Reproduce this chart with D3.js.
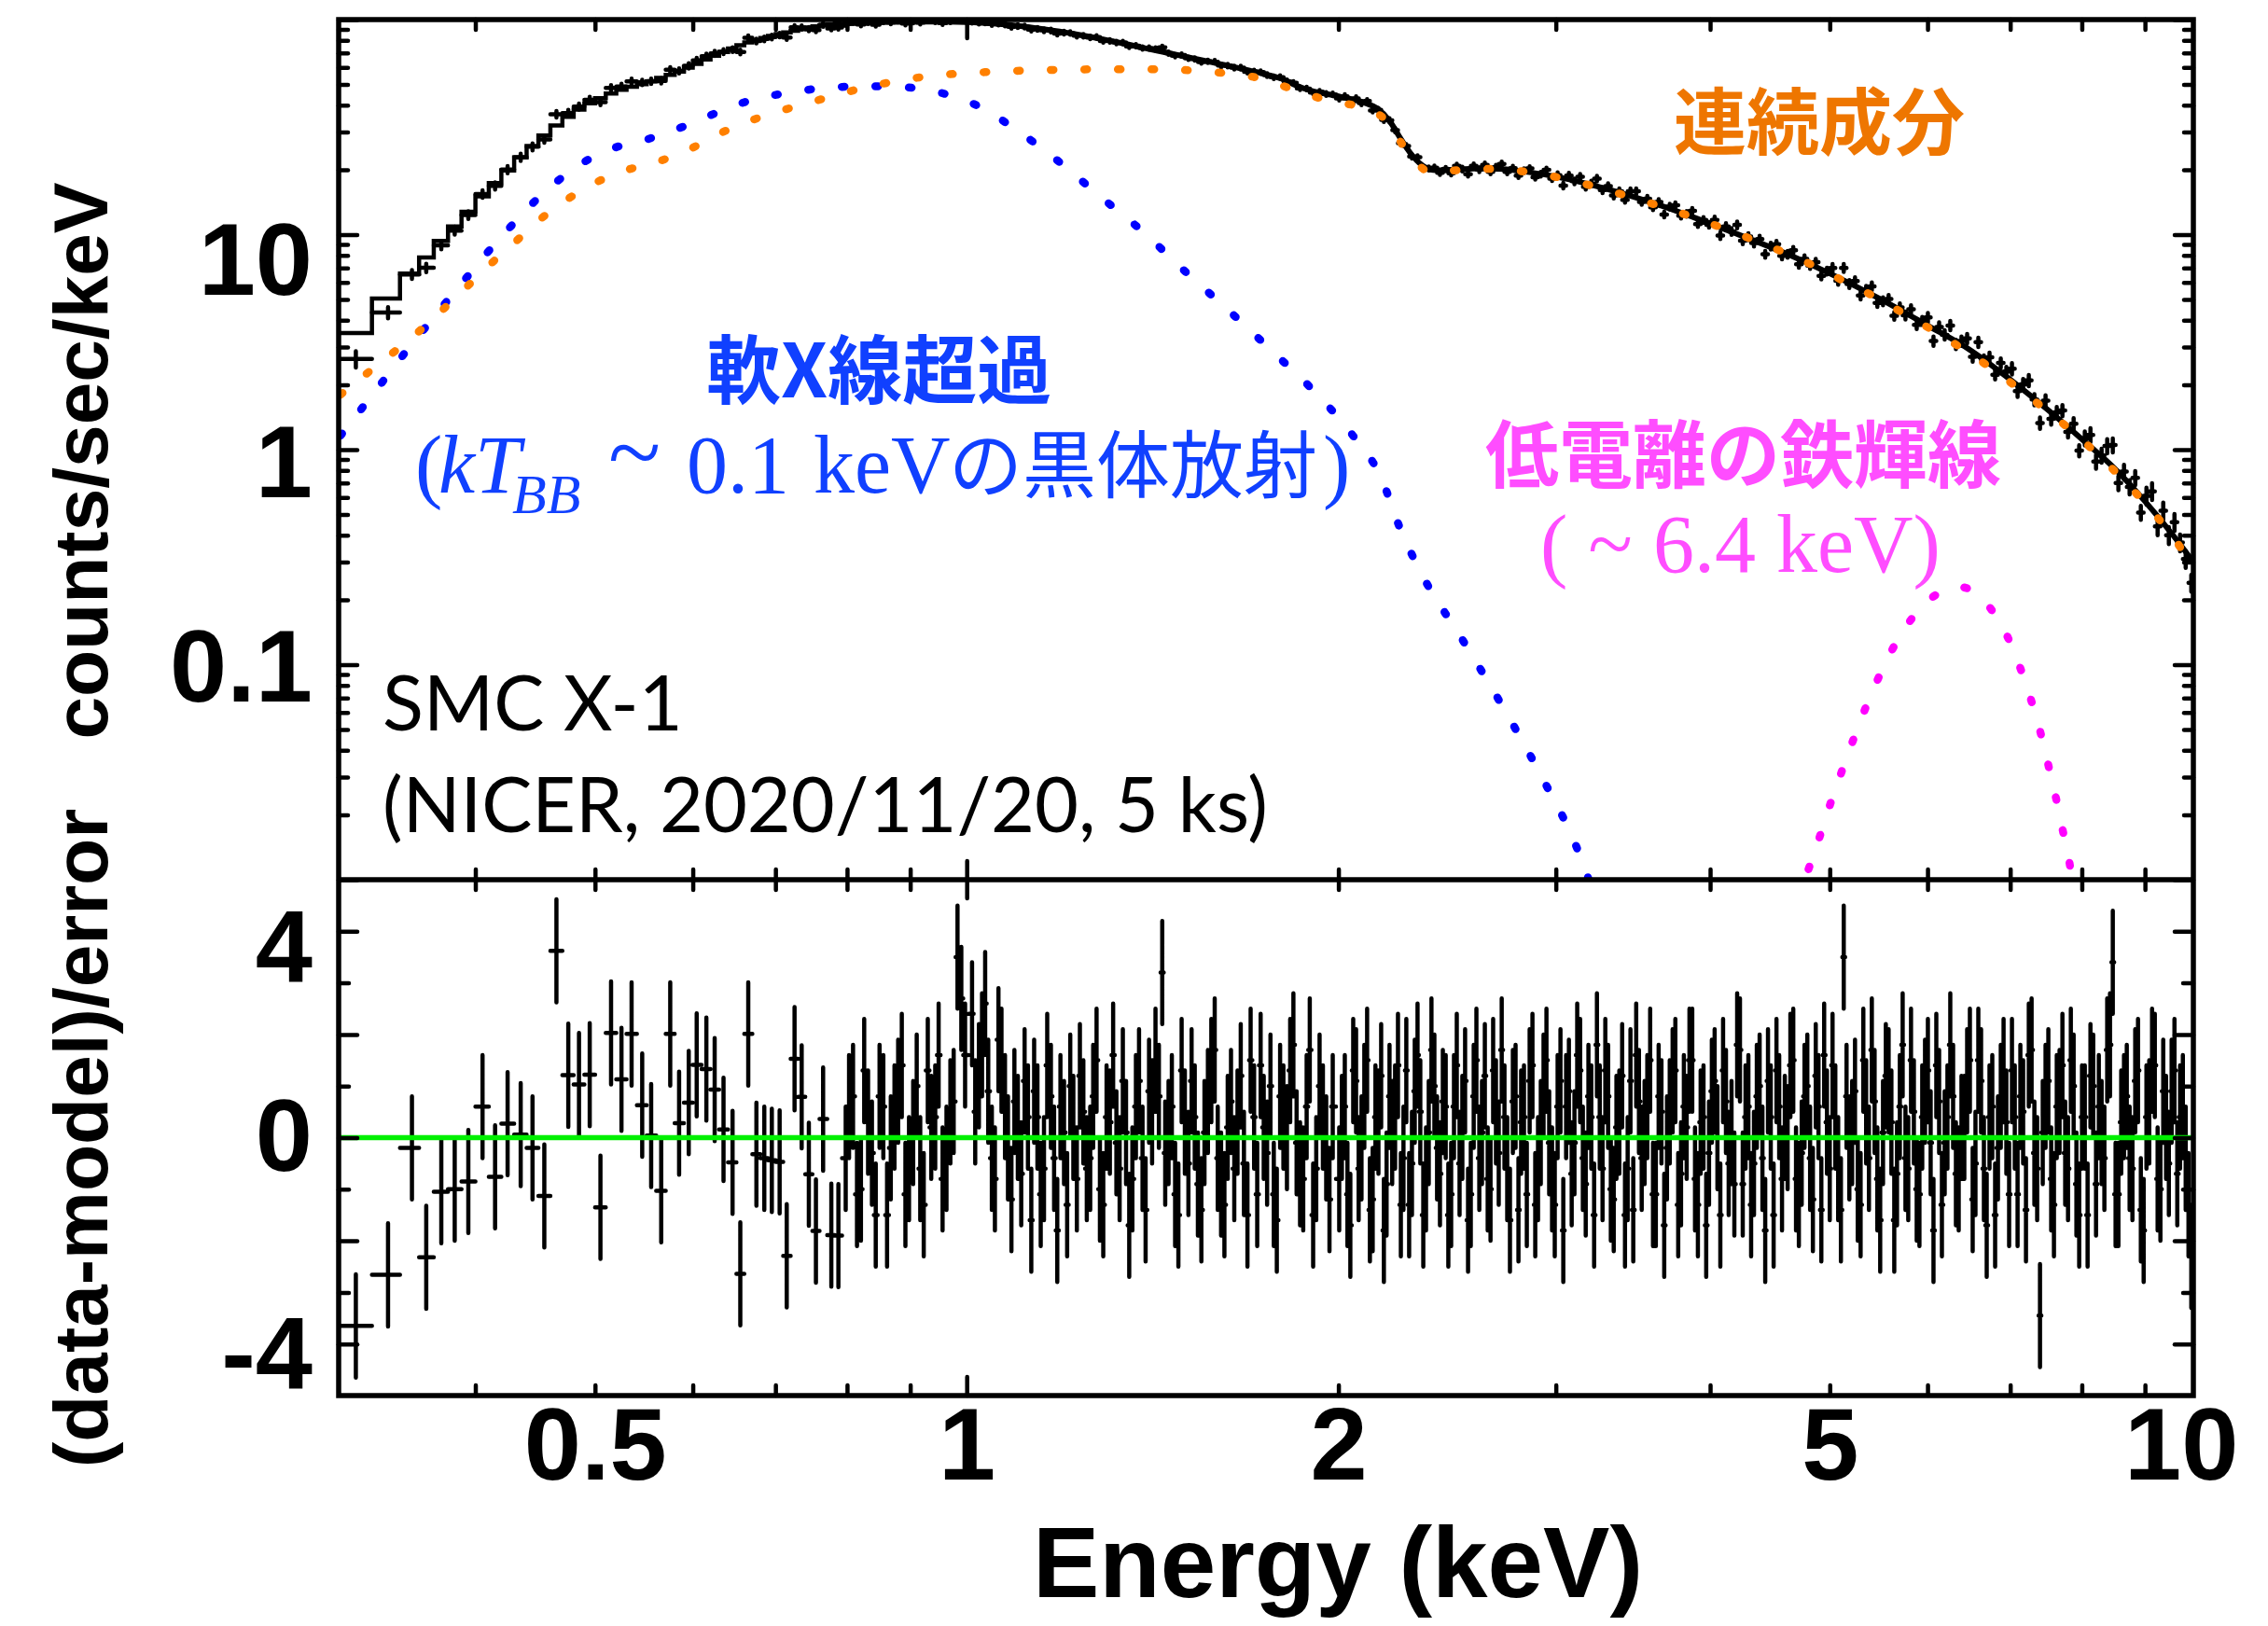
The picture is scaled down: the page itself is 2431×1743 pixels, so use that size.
<!DOCTYPE html>
<html><head><meta charset="utf-8">
<script src="https://cdn.jsdelivr.net/npm/d3@7"></script>
<style>html,body{margin:0;padding:0;background:#fff;overflow:hidden}svg{display:block}</style>
</head><body>
<svg id="c" width="2431" height="1743"></svg>
<script>
// ---------------- DATA ----------------
// spectrum bin centre energies (keV)
const binE = [0.3201,0.3399,0.3554,0.3650,0.3754,0.3849,0.3948,0.4054,0.4150,0.4248,
0.4353,0.4450,0.4549,0.4653,0.4757,0.4853,0.4951,0.5051,0.5152,0.5253,
0.5353,0.5460,0.5552,0.5657,0.5753,0.5849,0.5955,0.6044,0.6154,0.6250,
0.6354,0.6462,0.6556,0.6654,0.6756,0.6856,0.6953,0.7055,0.7149,0.7254,
0.7351,0.7450,0.7549,0.7651,0.7769,0.7872,
0.798,0.809,0.821,0.832,0.844,0.856,0.868,0.880,0.892,0.905,0.917,0.930,0.943,0.956,0.970,0.983,0.997,
1.010,1.023,1.035,1.048,1.061,1.074,1.087,1.100,1.114,1.128,1.141,1.155,1.170,1.184,1.199,1.213,1.228,1.243,1.259,1.274,
1.290,1.306,1.322,1.338,1.354,1.371,1.388,1.405,1.422,1.440,1.457,1.475,1.493,1.512,1.530,1.549,1.568,1.588,1.607,1.627,
1.647,1.667,1.688,1.709,1.730,1.751,1.773,1.794,1.817,1.839,1.862,1.885,1.908,1.931,1.955,1.979,
2.003,2.024,2.045,2.067,2.088,2.110,2.132,2.155,2.177,2.200,2.223,2.247,2.270,2.294,2.318,2.343,2.367,2.392,2.417,2.443,
2.468,2.494,2.520,2.547,2.574,2.601,2.628,2.656,2.683,2.712,2.740,2.769,2.798,2.827,2.857,2.887,2.917,2.948,2.979,3.010,
3.042,3.074,3.106,3.139,3.172,3.205,3.239,3.273,3.307,3.342,3.377,3.413,3.448,3.485,3.521,3.558,3.596,3.634,3.672,3.710,
3.749,3.789,3.829,3.869,3.910,3.951,3.992,4.034,4.077,4.120,4.163,4.207,4.251,4.296,4.341,4.387,4.433,4.479,4.527,4.574,
4.622,4.671,4.720,4.770,4.820,4.871,4.922,4.974,5.026,5.079,5.132,5.186,5.241,5.296,5.351,5.408,5.464,5.522,5.580,5.639,
5.698,5.758,5.818,5.880,5.941,6.004,6.067,6.131,6.195,6.260,6.326,6.392,6.460,6.527,6.596,6.665,6.735,6.806,6.878,6.950,
7.023,7.097,7.171,7.247,7.323,7.400,7.477,7.556,7.635,7.716,7.797,7.879,7.961,8.045,8.130,8.215,8.301,8.388,8.476,8.565,
8.655,8.746,8.838,8.931,9.025,9.120,9.215,9.312,9.410,9.509,9.609,9.710,9.812];

// residuals (data-model)/error in the same bins
const resid = [-3.65,-2.66,-0.2,-2.32,-1.05,-1.0,-0.85,0.6,-0.76,0.27,
0.06,-0.2,-1.13,3.62,1.21,1.03,1.22,-1.35,2.03,1.13,
2.01,0.63,0.04,-1.03,2.01,0.28,0.68,1.41,1.33,0.93,
0.16,-0.48,-2.64,2.01,-0.32,-0.4,-0.44,-0.47,-2.29,1.53,
0.79,-0.71,-1.81,0.36,-1.89,-1.9,
-0.4,0.8,-1.0,0.3,-1.5,0.6,-0.2,0.9,-1.1,0.1,-0.6,1.3,0.4,-0.8,0.5,3.5,1.6,
2.4,1.2,2.6,-0.4,1.9,0.6,-1.2,0.2,1.1,-1.6,0.4,-0.6,0.8,-1.8,0.1,1.0,-0.8,0.5,-0.4,1.5,
-1.3,0.3,-0.1,1.1,-1.7,0.6,-0.4,0.9,1.5,3.2,0.1,-1.1,1.3,-0.5,0.4,-1.4,0.7,1.7,-0.9,0.2,
-0.6,1.2,-1.5,0.4,1.4,-0.3,-1.1,0.8,0.0,1.8,-0.7,0.6,-1.5,1.0,-0.2,0.6,
-0.8,0.6,-1.7,1.1,-0.2,1.5,-1.2,0.3,-1.8,0.8,0.4,-1.3,1.3,-0.5,1.6,-1.5,0.1,1.0,-0.7,0.6,
-1.1,1.4,0.2,-1.6,0.8,-0.4,1.2,-1.0,0.5,1.7,-0.6,0.7,-1.4,0.4,1.1,-1.3,0.1,1.5,-0.8,0.6,
-1.8,0.9,-0.1,1.3,-0.9,0.4,1.8,-0.6,0.8,-1.2,0.3,-1.5,1.1,1.6,-0.4,0.6,-1.1,0.8,-1.7,0.5,
1.3,-0.7,0.2,1.5,-1.3,0.4,-0.3,1.1,-1.5,0.7,0.1,1.8,-0.9,0.6,-0.5,1.0,-1.8,0.4,1.3,-0.8,
0.0,1.5,-1.1,0.8,-0.4,1.2,-1.4,0.3,1.4,-0.6,3.5,-0.2,0.9,-1.3,0.5,1.7,-0.8,0.1,1.1,-1.6,
0.6,-0.4,1.5,-1.0,0.4,1.3,-1.8,0.7,-0.1,1.8,-0.7,0.2,1.1,-1.2,1.5,-0.6,0.4,-1.5,0.8,0.3,
1.3,-1.1,0.5,1.6,-0.3,-3.45,0.8,-0.8,0.6,1.4,-0.6,1.0,-1.5,0.4,1.2,-0.9,0.1,1.7,3.4,-1.1,
0.6,-0.4,1.1,-1.4,0.4,1.5,-0.8,0.9,-0.5,1.3,0.4,-0.4,-2.3];

// extra residual-only bins lying between the spectrum bins above 0.8 keV
const midE = [0.803,0.815,0.826,0.838,0.850,0.862,0.874,0.886,0.898,0.911,0.923,0.936,0.949,0.963,0.976,0.990,
1.016,1.029,1.041,1.054,1.067,1.080,1.093,1.107,1.121,1.134,1.148,1.162,1.177,1.191,1.206,1.220,1.235,1.251,1.266,1.282,
1.298,1.314,1.330,1.346,1.362,1.379,1.396,1.413,1.431,1.448,1.466,1.484,1.502,1.521,1.539,1.558,1.578,1.597,1.617,1.637,
1.657,1.677,1.698,1.719,1.740,1.762,1.783,1.805,1.828,1.850,1.873,1.896,1.919,1.943,1.967,
2.013,2.034,2.056,2.077,2.099,2.121,2.143,2.166,2.188,2.211,2.235,2.258,2.282,2.306,2.330,2.355,2.379,2.404,2.430,2.455,
2.481,2.507,2.533,2.560,2.587,2.614,2.642,2.669,2.697,2.726,2.754,2.783,2.812,2.842,2.872,2.902,2.932,2.963,2.994,3.026,
3.058,3.090,3.122,3.155,3.188,3.222,3.256,3.290,3.324,3.359,3.395,3.430,3.466,3.503,3.540,3.577,3.615,3.653,3.691,3.730,
3.769,3.809,3.849,3.889,3.930,3.971,4.013,4.055,4.098,4.141,4.185,4.229,4.273,4.318,4.364,4.410,4.456,4.503,4.550,4.598,
4.646,4.695,4.745,4.795,4.845,4.896,4.948,5.000,5.052,5.105,5.159,5.213,5.268,5.323,5.379,5.436,5.493,5.551,5.609,5.668,
5.728,5.788,5.849,5.910,5.972,6.035,6.099,6.163,6.227,6.293,6.359,6.426,6.493,6.561,6.630,6.700,6.770,6.842,6.914,6.986,
7.060,7.134,7.209,7.285,7.361,7.438,7.516,7.595,7.675,7.756,7.838,7.920,8.003,8.087,8.172,8.258,8.344,8.432,8.520,8.610,
8.700,8.792,8.884,8.978,9.072,9.167,9.263,9.361,9.459,9.559,9.659,9.761];
const residMid = [0.6,-1.1,1.3,-0.3,0.8,-1.5,0.4,1.4,-0.6,1.0,-1.3,0.2,1.6,-0.4,0.7,2.7,
0.5,1.8,0.9,-0.8,1.5,-0.2,0.7,-0.7,0.4,0.9,-1.1,1.4,-0.4,0.6,-1.3,0.2,1.2,-0.6,0.8,-1.0,
0.4,1.6,-0.6,0.1,-0.8,1.1,-1.4,0.5,0.8,-0.3,0.6,-1.5,0.3,1.1,-0.9,0.1,1.3,-0.4,-1.3,0.7,
0.3,-0.5,1.5,-1.1,0.2,1.0,-1.6,0.4,1.3,-0.1,-0.8,1.7,-0.6,0.4,-1.2,
0.2,-1.1,1.3,-0.6,0.8,-1.4,0.4,1.2,-0.9,0.1,1.4,-0.4,-1.3,0.9,0.5,-0.8,1.7,-0.2,0.7,-1.5,
0.6,-0.5,1.1,-1.1,1.5,0.1,-0.8,1.3,-0.3,0.4,-1.6,0.8,0.3,-1.1,1.4,-0.6,1.0,-0.1,-1.3,1.1,
0.6,-0.7,1.6,-0.4,0.8,-1.5,0.4,1.3,-1.0,0.2,1.2,-0.6,-1.4,0.7,0.1,1.5,-1.1,0.5,-0.2,1.1,
-1.3,0.6,1.5,-0.8,0.3,-1.7,0.9,0.0,1.3,-0.5,-0.9,1.7,0.4,-1.3,0.8,-0.4,1.1,-1.5,0.6,0.2,
1.4,-0.8,-0.3,1.0,-1.2,0.6,1.6,-0.6,0.4,-1.4,0.8,0.1,-1.0,1.5,-0.4,0.7,-1.6,1.2,0.3,-0.7,
1.8,-0.6,0.5,-1.1,0.9,-0.1,1.4,-1.3,0.4,0.8,-0.8,0.2,1.5,-0.5,1.1,-1.7,0.6,-0.2,1.3,-1.1,
0.4,0.8,-1.4,1.7,-0.6,0.1,1.1,-1.3,0.7,-0.3,1.5,-0.9,0.4,-1.5,1.0,0.6,-0.4,1.8,-1.1,0.3,
0.8,-0.6,1.3,-1.8,0.5,1.4,-1.0,0.2,0.9,-0.7,0.6,-1.3];

// observed spectrum (counts/sec/keV)
const specF = [2.64,4.34,6.53,7.01,8.92,10.44,12.32,15.44,16.86,20.07,
22.89,25.61,27.72,36.28,36.75,39.40,42.39,41.30,48.10,48.80,
51.64,51.03,51.66,51.90,58.47,57.75,60.94,64.61,67.54,69.60,
70.90,72.48,70.69,82.31,79.56,81.28,83.0,84.73,82.41,91.99,
91.94,90.30,89.31,94.76,91.05,91.80,
95.3,97.6,95.0,97.4,94.7,98.4,97.1,99.1,95.8,98.0,96.9,99.9,98.4,96.3,98.4,101.5,99.0,
97.8,96.9,97.0,95.3,95.8,94.9,92.6,93.2,92.8,89.9,90.6,89.1,89.0,86.1,86.9,86.6,84.1,84.1,82.6,83.0,
79.5,79.6,78.2,78.2,75.0,75.6,73.8,73.8,73.0,74.3,69.8,67.9,68.4,66.1,65.6,63.5,64.0,63.7,61.1,61.1,
59.8,59.8,57.2,57.3,57.0,55.2,53.9,54.0,51.6,50.8,47.9,47.8,45.8,46.2,45.1,44.9,
43.0,44.0,40.7,43.0,40.9,41.8,37.8,38.0,34.2,34.0,30.6,26.6,25.8,23.1,22.9,20.3,20.3,20.5,19.4,20.2,
19.3,20.9,20.2,19.1,20.9,20.05,21.1,19.6,20.6,21.3,19.6,20.4,18.8,19.85,20.3,18.5,19.1,20.0,18.2,18.9,
16.9,18.8,17.7,18.6,16.7,17.3,18.2,16.1,16.8,15.2,15.9,14.5,15.9,15.9,14.2,14.7,13.4,14.2,12.4,13.5,
13.7,12.25,12.5,12.9,11.2,11.7,11.1,11.7,9.9,10.9,10.35,11.1,9.37,9.8,9.13,9.53,8.11,8.84,9.02,7.96,
8.1,8.46,7.28,7.72,7.18,7.45,6.43,6.77,7.0,6.10,7.0,5.89,6.08,5.21,5.54,5.75,4.81,4.90,5.02,4.19,
4.59,4.21,4.50,3.80,3.97,4.12,3.20,3.72,3.42,3.78,3.09,3.20,3.29,2.70,3.16,2.61,2.69,2.23,2.53,2.31,
2.38,1.87,2.01,2.10,1.71,1.33,1.69,1.39,1.49,1.52,1.21,1.32,0.99,1.13,1.17,0.88,0.94,1.04,1.05,0.70,
0.79,0.67,0.74,0.51,0.61,0.64,0.44,0.52,0.40,0.46,0.37,0.31,0.24];

// percentage errors: wide low-energy bins individually, then by energy range
const specErrLow = [8.8,6.0,4.8,4.5,4.3,4.2,4.1,4.0,3.9,3.9,3.8,3.7,3.6,3.5,3.4,3.3,3.2,3.1,3.05,3.0,
3.0,2.95,2.9,2.9,2.85,2.8,2.8,2.75,2.7,2.7,2.65,2.6,2.6,2.55,2.5,2.5,2.45,2.4,2.4,2.35,2.3,2.3,2.25,2.25,2.2,2.2];
const errBands = [[0.79,2.0],[1.2,1.8],[1.6,1.9],[2.0,2.2],[2.5,2.5],[3.0,3.0],[4.0,3.6],[5.0,4.2],[6.0,5.0],[7.0,6.0],[8.0,7.5],[9.0,9.0]];

// total folded model: step histogram in the wide low-energy bins ...
const modelTot = [3.49,5.04,6.59,7.83,9.34,10.9,12.76,15.08,17.37,19.86,
22.84,25.8,28.9,32.2,35.3,38.1,40.8,43.1,45.3,47.2,
48.7,50.1,51.6,53.5,55.3,57.3,59.8,62.2,65.2,67.9,
70.6,73.4,75.9,78.3,80.2,82.1,83.9,85.7,87.2,88.8,
90.3,91.8,93.1,94.0,95.0,95.8];
// ... and as a line through the densely binned part
const totE = [0.7926,0.80,0.85,0.90,0.95,1.00,1.05,1.10,1.15,1.20,1.25,1.30,1.35,1.40,1.45,1.50,1.55,1.60,1.65,1.70,1.75,1.80,1.84,1.90,2.00,2.10,2.15,2.20,2.25,2.30,2.35,2.40,2.5,2.6,2.7,2.8,3.0,3.3,3.6,3.9,4.2,4.6,5.0,5.5,6.0,6.5,7.0,7.5,8.0,8.5,9.0,9.5,9.85];
const totF = [95.8,96.0,97.2,97.7,97.8,97.2,95.8,93.5,90.5,87.3,83.8,80.2,76.7,73.3,70.3,67.4,64.8,62.3,60.0,57.7,55.5,53.0,50.0,46.7,44.0,41.0,38.6,33.8,27.5,23.0,20.6,19.9,20.1,20.3,20.2,19.8,18.6,16.3,14.0,11.9,10.1,8.2,6.6,5.0,3.78,2.9,2.12,1.54,1.12,0.82,0.575,0.395,0.30];

// model components
const bbE = [0.311,0.3212,0.3338,0.3467,0.3607,0.3754,0.3912,0.4075,0.4253,0.4441,0.4654,0.4902,0.5191,0.5517,0.5853,0.6208,0.6591,0.7008,0.7466,0.7897,0.83,0.877,0.951,1.031,1.089,1.180,1.280,1.388,1.504,1.631,1.769,1.918,2.051,2.165,2.243,2.347,2.511,2.723,2.913,3.132,3.2];
const bbF = [1.16,1.47,1.95,2.59,3.44,4.56,6.06,8.04,10.6,13.8,17.6,21.8,25.4,27.8,31.3,36.0,41.1,44.7,47.3,48.6,49.0,48.7,45.8,38.6,31.6,22.5,15.2,10.35,6.71,4.42,2.86,1.83,1.18,0.744,0.4325,0.251,0.1353,0.0624,0.0311,0.0133,0.0095];
const contE = [0.311,0.3212,0.3371,0.3547,0.3719,0.3895,0.4081,0.4278,0.4483,0.4724,0.4991,0.5279,0.5602,0.5943,0.6291,0.6665,0.7088,0.7534,0.83,0.926,1.031,1.149,1.280,1.425,1.588,1.722,1.841,1.971,2.108,2.195,2.254,2.316,2.379,2.511,2.651,2.797,3.033,3.289,3.566,3.866,4.19,4.61,4.898,5.17,5.48,5.79,6.12,6.46,6.80,7.16,7.53,7.91,8.29,8.67,9.04,9.43,9.77,9.86];
const contF = [1.80,2.09,2.61,3.29,4.20,5.39,6.99,8.89,11.4,14.3,17.3,19.8,21.7,24.7,29.3,33.7,37.8,41.8,48.5,54.3,56.9,58.2,58.7,58.7,56.9,53.5,47.2,41.7,38.6,33.1,26.2,21.4,19.5,20.0,20.2,19.8,18.3,16.2,14.1,12.1,10.2,8.18,6.99,5.95,5.02,4.17,3.47,2.85,2.33,1.865,1.485,1.178,0.919,0.711,0.548,0.41,0.307,0.285];
const feE = [4.70,4.78,4.88,4.976,5.08,5.19,5.31,5.44,5.59,5.77,6.02,6.38,6.72,6.95,7.12,7.27,7.40,7.51,7.62,7.72,7.82,7.90];
const feF = [0.008,0.0103,0.01437,0.0204,0.02874,0.0404,0.0573,0.0799,0.1114,0.1514,0.2008,0.2295,0.188,0.1384,0.0992,0.0699,0.0493,0.0348,0.0243,0.0170,0.0119,0.008];

// axis ticks and labels
const xTickMajor = [1];
const xTickMinor = [0.4,0.5,0.6,0.7,0.8,0.9,2,3,4,5,6,7,8,9];
const xTickLabels = [0.5,1,2,5,10];
const yTickLabels = [0.1,1,10];
const resTickMajor = [-4,-2,0,2,4];
const resTickMinor = [-3,-1,1,3];
const resTickLabels = [-4,0,4];

// ---------------- LAYOUT / STYLE ----------------
const W = 2431, H = 1743;
const L = 363, R = 2351, T = 21, M = 943, B = 1496;
const SANS = "'Liberation Sans', Arial, Helvetica, sans-serif";
const SERIF = "'Liberation Serif', 'Times New Roman', serif";
const CJK = "'Noto Sans CJK JP', 'Noto Sans CJK SC', sans-serif";
const ROUNDF = "Lato, 'Open Sans', sans-serif";
const yNudge = {"10":29, "1":15, "0.1":4};
const resNudge = {"4":18, "0":0, "-4":12};
const xNudge = {"10":-22};

const x = d3.scaleLog().domain([0.31, 9.85]).range([L, R]);
const yU = d3.scaleLog().domain([0.01, 100]).range([M, T]);
const yL = d3.scaleLinear().domain([-5, 5]).range([B, M]);

const svg = d3.select("#c");
svg.append("rect").attr("width", W).attr("height", H).attr("fill", "#fff");
const defs = svg.append("defs");
defs.append("clipPath").attr("id", "clipU").append("rect").attr("x", L).attr("y", T).attr("width", R - L).attr("height", M - T);
defs.append("clipPath").attr("id", "clipL").append("rect").attr("x", L).attr("y", M).attr("width", R - L).attr("height", B - M);

function binEdges(E) {
  const n = E.length;
  const lo = E.map((e, i) => i === 0 ? e * Math.sqrt(e / E[1]) : Math.sqrt(e * E[i - 1]));
  const hi = E.map((e, i) => i === n - 1 ? e * Math.sqrt(e / E[n - 2]) : Math.sqrt(e * E[i + 1]));
  return [lo, hi];
}
const [lo, hi] = binEdges(binE);
const errPct = (i, e) => i < specErrLow.length ? specErrLow[i] : errBands.filter(b => e >= b[0]).pop()[1];

// ---------- upper panel ----------
const gU = svg.append("g").attr("clip-path", "url(#clipU)");
const stepPts = [];
modelTot.forEach((m, i) => { stepPts.push([x(lo[i]), yU(m)], [x(hi[i]), yU(m)]); });
gU.append("path").attr("d", d3.line()(stepPts)).attr("fill", "none")
  .attr("stroke", "#000").attr("stroke-width", 4.5);
const lineU = d3.line().x(d => x(d[0])).y(d => yU(d[1])).curve(d3.curveMonotoneX);
gU.append("path").attr("d", lineU(totE.map((e, i) => [e, totF[i]]))).attr("fill", "none")
  .attr("stroke", "#000").attr("stroke-width", 6);

const pU = d3.path();
binE.forEach((e, i) => {
  const f = specF[i], s = f * errPct(i, e) / 100, yc = yU(f);
  pU.moveTo(x(lo[i]), yc); pU.lineTo(x(hi[i]), yc);
  pU.moveTo(x(e), yU(f + s)); pU.lineTo(x(e), yU(f - s));
});
gU.append("path").attr("d", pU.toString()).attr("fill", "none").attr("stroke", "#000")
  .attr("stroke-width", 4.5).attr("stroke-linecap", "round");

function dotted(E, F, color) {
  gU.append("path").attr("d", lineU(E.map((e, i) => [e, F[i]]))).attr("fill", "none")
    .attr("stroke", color).attr("stroke-width", 8.5).attr("stroke-linecap", "round")
    .attr("stroke-dasharray", "3 33");
}
dotted(bbE, bbF, "#0000ff");
dotted(contE, contF, "#ff8000");
dotted(feE, feF, "#ff00ff");

// ---------- lower panel ----------
const resAll = binE.map((e, i) => [e, resid[i]])
  .concat(midE.map((e, i) => [e, residMid[i]]))
  .sort((a, b) => a[0] - b[0]);
const rE = resAll.map(d => d[0]);
const [rlo, rhi] = binEdges(rE);
const gL = svg.append("g").attr("clip-path", "url(#clipL)");
const pL = d3.path();
resAll.forEach(([e, r], i) => {
  pL.moveTo(x(rlo[i]), yL(r)); pL.lineTo(x(rhi[i]), yL(r));
  pL.moveTo(x(e), yL(r + 1)); pL.lineTo(x(e), yL(r - 1));
});
gL.append("path").attr("d", pL.toString()).attr("fill", "none").attr("stroke", "#000")
  .attr("stroke-width", 4.5).attr("stroke-linecap", "round");
gL.append("line").attr("x1", L).attr("x2", R).attr("y1", yL(0)).attr("y2", yL(0))
  .attr("stroke", "#00f000").attr("stroke-width", 5.5);

// ---------- ticks ----------
function ticks(axis, tx, ty, values, size) {
  svg.append("g").attr("transform", `translate(${tx},${ty})`)
    .call(axis.tickValues(values).tickSize(size).tickFormat(""))
    .call(g => {
      g.select(".domain").remove();
      g.selectAll("text").remove();
      g.selectAll("line").attr("stroke", "#000").attr("stroke-width", 4.5).attr("stroke-linecap", "round");
    });
}
const isDecade = v => Math.abs(Math.log10(v) - Math.round(Math.log10(v))) < 1e-6;
const yMinor = yU.ticks().filter(v => !isDecade(v));
const yMajor = yU.ticks().filter(v => isDecade(v));
[[d3.axisBottom, M], [d3.axisTop, T], [d3.axisTop, M], [d3.axisBottom, B]].forEach(([ax, yy]) => {
  ticks(ax(x), 0, yy, xTickMinor, -11);
  ticks(ax(x), 0, yy, xTickMajor, -20);
});
ticks(d3.axisLeft(yU), L, 0, yMinor, -10);
ticks(d3.axisLeft(yU), L, 0, yMajor, -20);
ticks(d3.axisRight(yU), R, 0, yMinor, -10);
ticks(d3.axisRight(yU), R, 0, yMajor, -20);
ticks(d3.axisLeft(yL), L, 0, resTickMinor, -11);
ticks(d3.axisLeft(yL), L, 0, resTickMajor, -20);
ticks(d3.axisRight(yL), R, 0, resTickMinor, -11);
ticks(d3.axisRight(yL), R, 0, resTickMajor, -20);

// ---------- frame ----------
svg.append("rect").attr("x", L).attr("y", T).attr("width", R - L).attr("height", B - T)
  .attr("fill", "none").attr("stroke", "#000").attr("stroke-width", 5.5);
svg.append("line").attr("x1", L).attr("x2", R).attr("y1", M).attr("y2", M)
  .attr("stroke", "#000").attr("stroke-width", 5.5);

// ---------- tick labels ----------
function labels(axis, tx, ty, values, pad, nudgeAttr, nudge) {
  svg.append("g").attr("transform", `translate(${tx},${ty})`)
    .call(axis.tickValues(values).tickSize(0).tickPadding(pad).tickFormat(d => String(d)))
    .call(g => {
      g.select(".domain").remove();
      g.attr("font-family", SANS).attr("font-size", 110).attr("font-weight", "bold");
      g.selectAll("text").attr("fill", "#000")
        .attr(nudgeAttr, function(d) { return nudge[String(d)] || 0; });
    });
}
labels(d3.axisBottom(x), 0, B, xTickLabels, 12, "dx", xNudge);
labels(d3.axisLeft(yU), L, 0, yTickLabels, 28, "y", yNudge);
labels(d3.axisLeft(yL), L, 0, resTickLabels, 28, "y", resNudge);

// ---------- titles ----------
svg.append("text").attr("x", 1434).attr("y", 1712).attr("text-anchor", "middle")
  .attr("font-family", SANS).attr("font-weight", "bold").attr("font-size", 107).text("Energy (keV)");
svg.append("text").attr("transform", "translate(115,494) rotate(-90)").attr("text-anchor", "middle")
  .attr("font-family", SANS).attr("font-weight", "bold").attr("font-size", 82).text("counts/sec/keV");
svg.append("text").attr("transform", "translate(115,1220) rotate(-90)").attr("text-anchor", "middle")
  .attr("font-family", SANS).attr("font-weight", "bold").attr("font-size", 82).text("(data-model)/error");

// ---------- annotations ----------
function txt(s, xx, yy, font, size, color, bold) {
  const t = svg.append("text").attr("x", xx).attr("y", yy).attr("font-family", font)
    .attr("font-size", size).attr("fill", color).text(s);
  if (bold) t.attr("font-weight", "bold");
  return t;
}
txt("連続成分", 1794, 160, CJK, 78, "#ee7600", true);
txt("軟X線超過", 757, 426, CJK, 80, "#1040ff", true);
const BL = 528;
const blueSeg = [
  {t: "(", x: 445, f: SERIF, s: 88},
  {t: "kT", x: 470, f: SERIF, s: 88, it: true},
  {t: "BB", x: 549, f: SERIF, s: 60, it: true, dy: 22},
  {t: "~", x: 652, f: SERIF, s: 104, dy: -8},
  {t: "0.1", x: 736, f: SERIF, s: 88},
  {t: "keV", x: 872, f: SERIF, s: 88},
  {t: "の黒体放射", x: 1017, f: CJK, s: 79},
  {t: ")", x: 1418, f: SERIF, s: 88}
];
const tb = svg.append("text").attr("fill", "#1040ff");
blueSeg.forEach(sg => {
  const ts = tb.append("tspan").attr("x", sg.x).attr("y", BL + (sg.dy || 0))
    .attr("font-family", sg.f).attr("font-size", sg.s).text(sg.t);
  if (sg.it) ts.attr("font-style", "italic");
});
txt("低電離の鉄輝線", 1592, 517, CJK, 79, "#ff4dff", true);
txt("( ~ 6.4 keV)", 1651, 613, SERIF, 88, "#ff4dff", false);
txt("SMC X-1", 410, 783, ROUNDF, 81, "#000", false);
txt("(NICER, 2020/11/20, 5 ks)", 410, 892, ROUNDF, 81, "#000", false);
</script>
</body></html>
